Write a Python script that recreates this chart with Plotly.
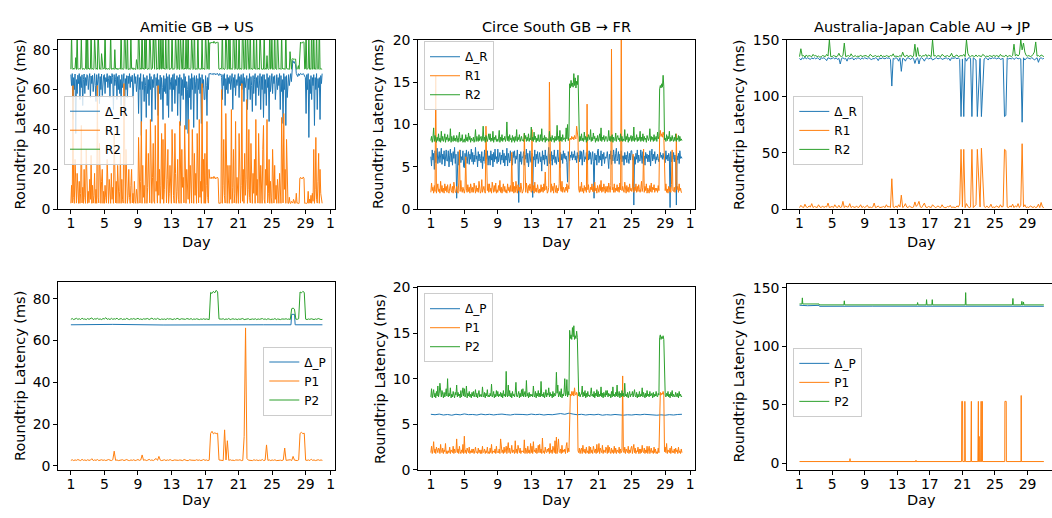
import plotly.graph_objects as go

W, H = 1052, 518
C_D, C_1, C_2 = "#1f77b4", "#ff7f0e", "#2ca02c"
FONT = "DejaVu Sans"

x_tickvals = [1, 5, 9, 13, 17, 21, 25, 29, 32]
x_ticktext = ["1", "5", "9", "13", "17", "21", "25", "29", "1"]

# ---------------- Amitie GB -> US : roundtrip (R), 2-hourly ----------------
amitie_dR = [
    67.5, 62, 68, 45, 66, 60, 67.8, 38, 65, 58, 67.2, 63,
    68, 55, 66.5, 61, 67.4, 52, 65, 67.8, 58, 66, 62, 67.5,
    67, 60, 65.5, 68, 56, 66.8, 63, 67.2, 59, 65, 68, 62,
    54, 67.5, 62, 65, 68, 53, 66.5, 60, 67.8, 57, 64, 67,
    67.5, 58, 66, 64, 68, 61, 65.5, 67, 56, 66.8, 63, 68,
    66, 50, 67.5, 62, 65, 68, 55, 66.5, 60, 67.2, 58, 65,
    52, 67.5, 61, 66, 68, 47, 65.5, 60, 67, 56, 66.8, 63,
    68, 61, 66.5, 64, 67.2, 56, 65, 68, 63, 66.5, 59, 67.5,
    67.5, 48, 66, 60, 68, 37, 64, 60, 67.5, 54, 66, 62,
    46, 67, 58, 65, 52, 68, 60, 66.5, 44, 65, 61, 67.5,
    67.5, 50, 66, 62, 68, 47, 65, 58, 67.2, 55, 66, 61,
    45, 67, 59, 65.5, 58, 68, 52, 66.5, 46, 67.5, 60, 64,
    66, 49, 67.5, 60, 68, 53, 65, 62, 67, 47, 66, 58,
    67.5, 42, 66, 57, 65, 55, 68, 61, 66.5, 40, 64, 60,
    38, 67, 56, 65.5, 50, 68, 60, 66, 41, 67, 58, 64,
    67, 45, 65.5, 60, 68, 58, 66, 43, 67.5, 61, 65, 55,
    55, 67, 62, 47, 66, 60, 68, 67.8, 68.2, 67.6, 68, 67.9,
    67.5, 68.2, 67.8, 67.4, 68, 67.6, 68.1, 67.7, 67, 68, 67.5, 67.8,
    66, 55, 67.5, 62, 68, 52, 65.5, 60, 67.5, 58, 66, 63,
    67, 60, 65.5, 68, 50, 66, 61, 67.5, 57, 65, 62, 68,
    68, 56, 66.5, 62, 67.5, 60, 65, 68, 54, 66, 61, 67,
    67, 50, 65.5, 60, 68, 55, 66.5, 62, 49, 67, 58, 65,
    68, 52, 66, 61, 67, 57, 65.5, 68, 50, 66.5, 60, 67.5,
    46, 67.5, 58, 65, 52, 68, 61, 66, 44, 67, 59, 65.5,
    68, 58, 66.5, 63, 67, 55, 65, 67.5, 60, 66, 62, 68,
    50, 67, 59, 65, 43, 68, 60, 66.5, 42, 67, 56, 65,
    67.5, 62, 66, 68, 64, 73, 74.5, 73.5, 74, 73, 72.5, 68,
    67.5, 66.5, 68, 67, 67.8, 68.1, 67.5, 67.9, 67.6, 68, 67.4, 66.8,
    66, 48, 67.5, 60, 68, 36, 65, 58, 67, 55, 66, 62,
    67.5, 42, 66, 60, 68, 50, 65.5, 61, 66, 45, 67, 63,
    68,
]
amitie_R1 = [
    3, 12, 3.2, 62, 6, 3, 25, 9, 3.1, 18, 5, 3,
    14, 3, 8, 42, 3.2, 11, 3, 20, 6, 3, 30, 7,
    3, 9, 3.3, 15, 5, 27, 3, 12, 3.1, 7, 18, 3,
    10, 3, 62, 6, 3.2, 33, 8, 3, 14, 20, 3, 9,
    3, 12, 6, 3.1, 25, 4, 3, 15, 8, 3, 18, 5,
    11, 3, 38, 7, 3.2, 14, 3, 22, 6, 3, 9, 28,
    3, 15, 5, 3.1, 63, 9, 3, 30, 12, 3, 7, 20,
    6, 3, 12, 20, 3.2, 8, 3, 14, 4, 3, 10, 5,
    3, 36, 9, 3.1, 14, 44, 3, 22, 6, 12, 3, 18,
    40, 3, 11, 28, 5, 3.2, 45, 8, 3, 16, 33, 4,
    3, 42, 9, 14, 3.1, 62, 7, 20, 3, 12, 38, 5,
    35, 3, 10, 43, 6, 3.2, 15, 30, 3, 8, 22, 4,
    3, 40, 12, 7, 3.1, 38, 18, 3, 9, 25, 5, 3,
    44, 6, 3, 30, 11, 16, 3.2, 42, 8, 3, 20, 13,
    5, 45, 3, 22, 9, 3.1, 40, 13, 3, 28, 7, 18,
    3, 38, 10, 3.2, 45, 6, 14, 3, 63, 9, 25, 3,
    28, 3, 12, 44, 6, 3.1, 20, 15.5, 15.8, 15.3, 16.2, 15.6,
    15.4, 16.5, 15.5, 15.2, 15.9, 15.5, 16.1, 15.4, 3, 3.1, 2.9, 3.2,
    60, 3, 12, 35, 7, 3.1, 48, 9, 3, 22, 14, 3,
    22, 5, 50, 3, 11, 30, 3.2, 8, 44, 3, 16, 6,
    3, 38, 9, 3.1, 12, 63, 4, 20, 3, 28, 7, 15,
    55, 3, 10, 40, 6, 3.2, 33, 12, 3, 18, 8, 25,
    3, 45, 7, 15, 3.1, 38, 9, 3, 22, 11, 3, 30,
    42, 5, 3, 20, 12, 45, 3.2, 8, 25, 3, 14, 6,
    3, 30, 8, 3.1, 22, 5, 12, 3, 15, 9, 3, 18,
    12, 3, 46, 7, 3.2, 48, 10, 20, 3, 35, 6, 3,
    3, 6, 3.2, 2.9, 4, 3, 3.1, 5, 3, 2.9, 3.3, 8,
    3, 3.2, 2.9, 3, 15.5, 16, 15.3, 15.7, 15.4, 16.2, 15.5, 3,
    3.1, 2.9, 3, 3.2, 9, 3, 5, 3.1, 7, 3, 8, 4,
    30, 3, 10, 36, 5, 3.1, 14, 28, 3, 20, 8, 3,
    3,
]
amitie_R2 = [
    70.2, 88, 70.5, 70.1, 70.8, 70.3, 70.6, 76, 70.1, 90, 70.4, 70.2,
    70.6, 70.2, 70.4, 86, 70.9, 70.1, 70.5, 70.3, 70.2, 70.7, 91, 70.1,
    89, 70.3, 70.8, 70.1, 70.5, 93, 70.2, 70.6, 70.1, 70.4, 87, 70.2,
    70.2, 70.7, 70.1, 90, 70.5, 70.3, 70.6, 70.1, 78, 70.4, 70.2, 70.6,
    70.5, 92, 70.1, 70.7, 70.3, 70.2, 70.6, 70.1, 70.4, 89, 70.2, 70.4,
    70.3, 70.6, 70.1, 80, 70.5, 70.2, 70.8, 70.1, 70.4, 70.2, 70.6, 70.3,
    93, 70.2, 70.5, 70.1, 70.7, 95, 70.3, 70.2, 70.5, 90, 70.1, 70.4,
    70.4, 70.1, 87, 70.6, 70.2, 70.9, 70.1, 70.5, 70.3, 70.1, 75, 70.2,
    70.2, 94, 70.5, 70.1, 70.6, 70.2, 96, 70.3, 70.7, 70.1, 91, 70.4,
    88, 70.4, 70.1, 70.6, 70.2, 93, 70.5, 70.1, 70.3, 70.7, 87, 70.2,
    70.2, 95, 70.4, 70.1, 70.6, 70.3, 89, 70.1, 70.5, 94, 70.2, 70.6,
    92, 70.3, 70.7, 70.1, 88, 70.5, 70.2, 70.6, 96, 70.1, 70.4, 70.3,
    70.6, 93, 70.1, 70.4, 70.2, 70.7, 89, 70.3, 70.1, 70.5, 91, 70.2,
    70.1, 88, 70.6, 70.2, 70.4, 94, 70.1, 70.8, 70.3, 90, 70.2, 70.5,
    95, 70.2, 70.5, 70.1, 70.7, 89, 70.3, 70.1, 70.6, 93, 70.2, 70.4,
    70.4, 70.1, 91, 70.5, 70.2, 70.6, 70.1, 70.3, 87, 70.2, 70.7, 70.3,
    70.1, 90, 70.4, 70.2, 70.6, 86, 70.1, 83.5, 83.2, 83.8, 83.4, 83.6,
    83.3, 84.2, 83.5, 83.1, 83.7, 83.4, 83.9, 83.5, 70.4, 70.1, 70.7, 70.2,
    70.5, 92, 70.2, 70.6, 70.1, 70.4, 94, 70.3, 70.1, 70.6, 90, 70.2,
    89, 70.2, 70.5, 70.1, 70.7, 95, 70.3, 70.1, 70.5, 87, 70.2, 70.4,
    70.4, 93, 70.1, 70.6, 70.2, 70.3, 96, 70.5, 70.1, 70.7, 88, 70.2,
    70.2, 91, 70.5, 70.1, 70.4, 94, 70.2, 70.6, 70.1, 70.3, 92, 70.5,
    70.6, 70.1, 87, 70.4, 70.2, 70.8, 70.1, 91, 70.5, 70.3, 70.2, 70.4,
    70.3, 90, 70.1, 70.6, 70.2, 77, 70.5, 70.1, 70.4, 93, 70.2, 70.7,
    88, 70.2, 70.5, 70.1, 94, 70.6, 70.3, 70.1, 90, 70.4, 70.2, 70.5,
    70.5, 70.1, 89, 70.3, 70.7, 70.2, 70.4, 70.1, 91, 70.6, 70.2, 70.3,
    70.3, 70.1, 79, 70.6, 70.2, 75.2, 75.6, 75.1, 75.4, 75.0, 75.3, 70.4,
    70.1, 70.6, 72, 70.2, 83.5, 83.8, 83.2, 83.6, 83.4, 84.0, 83.5, 70.3,
    70.5, 91, 70.1, 70.4, 70.6, 88, 70.2, 70.4, 70.1, 94, 70.3, 70.2,
    92, 70.3, 70.6, 70.1, 90, 70.5, 70.2, 70.4, 95, 70.1, 70.6, 70.3,
    70.2,
]

# ---------------- Circe South GB -> FR : roundtrip (R), 2-hourly ----------------
circe_dR = [
    6.2, 5.1, 7.0, 5.8, 6.6, 4.7, 6.9, 5.5, 6.3, 7.2, 5.4, 6.0,
    6.8, 5.5, 6.2, 7.2, 5.3, 6.5, 5.9, 6.9, 5.1, 6.4, 7.0, 5.7,
    5.7, 6.9, 5.0, 6.3, 7.1, 5.6, 6.6, 5.2, 6.8, 6.0, 7.3, 5.4,
    6.5, 1.3, 5.9, 6.8, 5.2, 6.4, 7.0, 5.5, 6.2, 5.8, 6.9, 5.0,
    4.9, 6.6, 5.8, 7.0, 5.4, 6.2, 6.8, 5.3, 6.5, 5.9, 7.1, 5.6,
    6.7, 5.3, 6.4, 5.6, 7.3, 5.9, 6.3, 5.0, 6.8, 5.7, 6.5, 6.0,
    5.5, 6.8, 4.8, 6.2, 5.7, 7.0, 5.4, 6.6, 5.9, 6.9, 5.2, 6.3,
    6.3, 5.2, 6.9, 5.8, 6.5, 5.0, 6.7, 5.6, 7.1, 5.9, 6.2, 5.4,
    7.1, 5.6, 6.0, 6.7, 5.3, 6.4, 5.8, 7.0, 5.5, 6.6, 5.1, 6.3,
    5.8, 7.2, 5.1, 6.6, 6.0, 5.5, 6.9, 5.7, 6.4, 5.2, 6.8, 6.1,
    6.9, 5.4, 6.3, 5.9, 7.0, 5.7, 0.8, 6.5, 5.6, 6.8, 5.3, 6.2,
    6.1, 6.8, 5.2, 6.4, 5.9, 7.1, 5.5, 6.6, 5.0, 6.3, 6.9, 5.7,
    5.5, 6.6, 1.4, 6.2, 5.8, 7.0, 5.0, 6.5, 5.9, 6.8, 5.4, 6.1,
    6.7, 5.6, 6.2, 4.5, 6.9, 5.8, 6.4, 5.3, 7.0, 5.9, 6.3, 5.1,
    6.0, 7.3, 5.4, 6.5, 5.7, 6.8, 5.2, 6.4, 5.9, 7.0, 5.5, 6.2,
    5.3, 6.4, 7.0, 5.6, 6.1, 4.9, 6.7, 5.8, 6.5, 5.4, 6.9, 6.0,
    6.6, 5.9, 6.3, 5.5, 3.2, 6.8, 6.2, 5.7, 6.4, 6.1, 6.8, 5.8,
    6.5, 6.1, 6.9, 5.8, 6.3, 5.5, 6.7, 6.0, 6.4, 5.6, 6.9, 5.9,
    6.8, 5.2, 6.4, 7.0, 5.6, 6.2, 5.9, 6.7, 5.4, 6.5, 5.8, 6.9,
    5.9, 6.7, 5.3, 6.1, 6.8, 5.6, 1.3, 6.6, 5.8, 6.4, 5.2, 6.9,
    7.1, 5.5, 6.3, 5.8, 6.9, 5.1, 6.5, 5.9, 6.7, 5.4, 6.2, 6.0,
    6.2, 6.8, 5.6, 4.8, 6.5, 5.9, 6.9, 5.3, 6.4, 5.7, 7.0, 5.5,
    5.4, 6.6, 7.2, 5.7, 6.0, 6.8, 5.3, 6.5, 5.9, 6.9, 5.6, 6.3,
    6.3, 5.2, 6.7, 5.9, 6.4, 5.5, 6.8, 6.0, 5.4, 6.6, 5.8, 6.9,
    6.9, 5.8, 6.3, 0.5, 6.2, 5.3, 6.6, 5.9, 7.0, 5.5, 6.4, 5.7,
    5.7, 7.0, 6.1, 5.4, 6.8, 5.9, 6.3, 5.2, 6.7, 6.0, 6.5, 5.6,
    6.4, 5.6, 6.9, 5.1, 6.3, 7.1, 5.7, 6.5, 5.9, 6.8, 5.4, 6.2,
    5.8, 6.5, 6.0, 5.6, 6.2, 6.7, 6.1, 6.4, 5.9, 6.6, 6.0, 5.5,
    5.5, 6.9, 5.9, 6.4, 5.7, 6.6, 6.2, 0.2, 6.8, 5.6, 6.3, 5.9,
    6.7, 5.6, 6.4, 5.8, 0.5, 6.3, 5.8, 6.6, 5.4, 6.9, 6.0, 6.2,
    6.0,
]
circe_R1 = [
    2.0, 3.1, 2.2, 2.6, 1.9, 2.8, 2.1, 15.7, 1.9, 2.6, 3.0, 2.1,
    2.4, 1.9, 3.3, 2.1, 2.8, 2.0, 2.5, 1.9, 3.0, 2.2, 2.7, 2.0,
    2.9, 2.1, 1.9, 2.5, 3.0, 2.2, 2.0, 2.7, 1.9, 3.2, 2.3, 2.0,
    2.0, 2.7, 2.2, 1.9, 3.1, 7.0, 2.1, 3.4, 2.3, 2.0, 2.6, 1.9,
    1.9, 2.4, 6.2, 2.4, 2.0, 2.9, 2.1, 2.6, 1.9, 3.0, 2.2, 2.0,
    2.6, 2.0, 3.1, 2.3, 1.9, 2.8, 2.1, 2.5, 2.0, 3.3, 2.2, 1.9,
    2.1, 3.5, 2.0, 2.4, 2.7, 2.2, 1.9, 9.8, 2.7, 2.2, 3.0, 2.0,
    3.0, 2.1, 2.5, 1.9, 3.2, 2.4, 2.0, 2.8, 2.1, 3.1, 1.9, 2.3,
    2.0, 2.8, 2.2, 3.4, 2.0, 2.6, 1.9, 2.4, 3.0, 2.1, 2.7, 2.0,
    2.3, 1.9, 3.0, 2.2, 2.6, 2.0, 2.8, 2.1, 6.7, 2.1, 3.2, 1.9,
    2.7, 2.0, 3.3, 2.4, 1.9, 2.9, 2.2, 2.6, 2.0, 3.1, 2.3, 1.9,
    2.1, 2.5, 8.9, 2.3, 2.0, 3.1, 2.5, 1.9, 2.8, 2.2, 3.0, 2.0,
    2.0, 9.4, 2.2, 2.8, 1.9, 3.2, 2.1, 2.5, 2.0, 2.9, 2.3, 1.9,
    2.4, 2.0, 2.9, 2.1, 2.6, 2.0, 3.0, 2.2, 4.4, 2.3, 2.7, 1.9,
    2.1, 2.6, 15.0, 2.5, 2.0, 3.0, 2.2, 2.7, 1.9, 3.1, 2.4, 2.0,
    2.8, 1.9, 2.5, 2.2, 3.0, 8.2, 2.3, 2.1, 3.3, 2.0, 2.6, 2.2,
    2.0, 2.6, 2.2, 3.0, 2.0, 2.8, 2.4, 8.3, 8.4, 8.2, 8.6, 8.3,
    8.5, 8.2, 8.7, 8.4, 8.3, 9.8, 8.6, 8.4, 2.4, 2.0, 2.7, 2.1,
    3.2, 2.1, 2.5, 1.9, 2.8, 2.2, 2.6, 2.0, 12.4, 2.3, 2.9, 2.0,
    2.0, 2.6, 2.3, 3.0, 2.1, 2.7, 2.0, 3.2, 2.2, 2.5, 1.9, 2.8,
    2.4, 2.0, 2.9, 2.2, 3.4, 2.0, 2.6, 2.1, 3.0, 2.3, 1.9, 2.7,
    2.1, 2.7, 2.0, 3.1, 2.4, 2.0, 2.8, 18.9, 2.3, 2.6, 2.0, 3.0,
    2.0, 2.5, 2.2, 2.9, 2.1, 2.6, 2.0, 3.1, 2.3, 20.5, 2.2, 2.7,
    2.3, 2.0, 3.2, 2.4, 1.9, 2.8, 2.1, 2.6, 2.0, 3.0, 2.2, 2.5,
    2.1, 2.4, 6.5, 2.0, 2.6, 2.2, 3.0, 2.0, 2.7, 2.1, 2.9, 2.3,
    2.0, 2.4, 3.3, 2.1, 2.6, 7.1, 2.0, 2.7, 2.2, 3.0, 1.9, 2.5,
    2.2, 1.9, 2.8, 2.1, 3.1, 2.0, 2.6, 2.3, 2.9, 2.0, 2.5, 2.2,
    2.5, 2.0, 2.8, 2.2, 8.7, 9.3, 8.6, 8.9, 8.5, 9.1, 8.7, 2.3,
    2.2, 3.0, 2.0, 2.4, 1.9, 2.7, 2.1, 2.6, 2.0, 2.9, 7.0, 2.2,
    2.1, 2.6, 2.0, 2.8, 8.9, 2.3, 2.7, 2.0, 3.0, 2.2, 2.5, 2.0,
    2.0,
]
circe_R2 = [
    8.1, 8.6, 7.9, 8.4, 9.6, 8.0, 8.7, 8.2, 7.9, 8.5, 8.1, 8.9,
    8.0, 8.4, 7.9, 9.2, 8.1, 8.6, 8.0, 8.3, 8.9, 7.9, 8.5, 8.2,
    8.8, 8.0, 8.4, 8.1, 9.5, 7.9, 8.6, 8.2, 8.0, 8.7, 8.1, 8.4,
    8.0, 8.7, 8.2, 7.9, 8.5, 9.1, 8.0, 8.4, 8.1, 8.8, 7.9, 8.3,
    8.3, 7.9, 8.8, 8.1, 8.5, 8.0, 9.0, 8.2, 8.6, 7.9, 8.4, 8.1,
    8.1, 8.5, 7.9, 8.3, 9.4, 8.0, 8.6, 8.2, 8.0, 8.8, 8.1, 8.4,
    8.6, 8.0, 8.3, 9.8, 8.1, 8.5, 7.9, 8.7, 8.2, 8.0, 8.4, 8.9,
    8.2, 8.9, 8.0, 8.4, 8.1, 9.2, 7.9, 8.5, 8.2, 8.7, 8.0, 8.3,
    8.0, 8.3, 9.3, 7.9, 8.5, 8.1, 8.8, 8.0, 8.4, 8.2, 8.6, 8.0,
    8.4, 10.3, 8.1, 8.6, 8.0, 8.8, 8.2, 8.4, 7.9, 8.7, 8.1, 8.5,
    7.9, 8.6, 8.1, 9.4, 8.0, 8.5, 8.2, 8.8, 8.0, 8.3, 8.6, 8.1,
    8.2, 8.0, 9.0, 8.3, 8.7, 8.0, 8.5, 8.1, 8.9, 8.0, 8.4, 8.2,
    9.7, 8.1, 8.5, 8.0, 9.1, 8.2, 8.6, 7.9, 8.4, 8.1, 8.8, 8.0,
    8.0, 8.8, 8.1, 9.5, 8.0, 8.4, 8.2, 8.7, 7.9, 8.5, 8.1, 8.3,
    8.3, 8.0, 9.2, 8.1, 8.5, 8.0, 8.7, 8.2, 8.4, 7.9, 8.6, 8.1,
    8.1, 9.9, 8.2, 8.6, 8.0, 9.3, 8.1, 8.5, 8.0, 8.8, 8.2, 8.4,
    8.4, 8.0, 9.6, 8.3, 10.0, 8.1, 8.6, 14.8, 14.3, 15.2, 14.5, 14.9,
    14.4, 16.0, 14.6, 15.5, 14.3, 15.1, 14.7, 15.8, 8.3, 8.0, 8.6, 8.1,
    8.9, 8.1, 8.4, 8.0, 9.1, 8.2, 8.6, 7.9, 8.5, 8.1, 8.8, 8.2,
    8.2, 9.4, 8.0, 8.5, 8.1, 9.0, 8.3, 8.6, 7.9, 8.4, 8.1, 8.7,
    8.0, 8.4, 8.9, 8.1, 9.6, 8.0, 8.5, 8.2, 8.7, 8.0, 8.3, 8.6,
    8.5, 8.0, 8.2, 9.3, 8.1, 8.6, 8.0, 8.4, 8.8, 7.9, 8.5, 8.2,
    8.1, 9.0, 8.0, 8.5, 8.7, 8.2, 8.4, 8.0, 8.9, 8.1, 8.6, 8.0,
    8.3, 8.1, 9.4, 8.0, 8.6, 8.2, 8.9, 7.9, 8.5, 8.1, 8.4, 8.7,
    8.0, 8.6, 8.1, 9.7, 8.0, 8.4, 8.2, 8.8, 8.0, 8.5, 8.1, 8.3,
    9.2, 8.0, 8.5, 8.1, 8.9, 8.0, 8.6, 8.2, 8.4, 7.9, 8.7, 8.1,
    8.1, 8.4, 9.5, 8.0, 8.6, 8.2, 8.5, 8.0, 8.8, 8.1, 8.3, 8.6,
    8.0, 9.1, 8.3, 8.6, 14.2, 14.6, 14.3, 14.8, 14.4, 15.8, 14.5, 8.2,
    8.4, 8.0, 8.8, 8.1, 8.6, 8.3, 9.2, 8.0, 8.5, 8.1, 8.7, 8.2,
    8.0, 8.5, 8.1, 8.9, 8.0, 8.4, 8.2, 8.7, 8.0, 8.6, 8.1, 8.3,
    8.1,
]

# ---------------- Australia-Japan Cable AU -> JP : roundtrip (R), 4-hourly ----------------
ajc_dR = [
    133.5, 132, 134, 133, 134.5, 133,
    134, 133.5, 132.5, 134, 133, 134,
    133, 134, 133.5, 132, 134, 133.5,
    134, 133, 131.5, 134, 133.5, 133,
    133.5, 134, 133, 134, 132.5, 133.5,
    128.5, 133.5, 134, 133, 133.5, 131,
    134, 133, 133.5, 134, 132, 133.5,
    133, 134, 133.5, 132.5, 134, 133,
    134, 133.5, 133, 134, 133.5, 132,
    133.5, 133, 134, 133.5, 131.5, 134,
    133, 134, 133.5, 133, 134, 133.5,
    134, 132.5, 109, 133.5, 133, 134,
    133.5, 131, 134, 122, 133.5, 133,
    131, 133.5, 134, 133, 132.5, 134,
    133.5, 129, 133, 134, 128.5, 133.5,
    134, 133, 131, 133.5, 134, 133,
    133.5, 134, 132, 133, 133.5, 134,
    133, 133.5, 134, 132.5, 133, 134,
    134, 133, 133.5, 131.5, 134, 133.5,
    133.5, 134, 133, 134, 132.5, 82,
    133, 82, 134, 131, 133.5, 134,
    133.5, 82, 134, 133, 132, 82,
    108, 133.5, 82, 103, 133, 134,
    133.5, 132, 134, 133, 134, 133.5,
    134, 133, 133.5, 134, 132.5, 133,
    133.5, 82, 83, 134, 133, 133.5,
    133, 134, 132.5, 133.5, 134, 133,
    133.5, 133, 77, 134, 132, 133.5,
    134, 133.5, 133, 134, 133.5, 132,
    133, 134, 130, 133.5, 134, 133,
    133.5,
]
ajc_R1 = [
    1.5, 3.5, 2, 1.5, 4.5, 2,
    1.5, 3, 2, 5, 1.5, 2.5,
    2, 1.5, 4, 2, 1.5, 3,
    1.5, 2.5, 2, 5.5, 1.5, 2,
    2.5, 1.5, 4, 2, 1.5, 3.5,
    1.5, 2, 7, 1.5, 3, 2,
    2, 5, 1.5, 2.5, 2, 1.5,
    3, 1.5, 2, 4, 1.5, 2.5,
    1.5, 2.5, 3.5, 1.5, 2, 1.5,
    2, 5.5, 1.5, 2, 3, 1.5,
    1.5, 2, 2.5, 1.5, 4, 2,
    2.5, 1.5, 27, 2, 1.5, 3,
    1.5, 4, 2, 12.5, 1.5, 2.5,
    5, 2, 1.5, 3, 2, 1.5,
    2, 6.5, 2.5, 4, 7, 2,
    1.5, 3, 5.5, 2, 1.5, 2.5,
    2, 1.5, 4, 2.5, 1.5, 2,
    3, 2, 1.5, 4, 2, 1.5,
    1.5, 2.5, 2, 3.5, 1.5, 2,
    2, 1.5, 3, 2, 4.5, 53,
    2, 53, 1.5, 5, 2.5, 1.5,
    2, 53, 1.5, 3, 4, 53,
    27, 2, 54, 32, 2.5, 1.5,
    3, 1.5, 2, 4.5, 1.5, 2,
    1.5, 3, 2, 1.5, 4, 2,
    2.5, 53, 52, 2, 1.5, 3,
    2, 4.5, 1.5, 3, 2, 5,
    1.5, 3.5, 58, 2, 4, 1.5,
    2, 1.5, 3, 2, 1.5, 2.5,
    1.5, 2, 4.5, 1.5, 6, 2,
    1.5,
]
ajc_R2 = [
    135, 142, 135.5, 136, 134.5, 136.5,
    135, 136, 135.5, 135, 137, 135.5,
    136, 135, 135.5, 134.5, 135, 136,
    135.5, 135, 137, 135.5, 150, 135,
    135, 136, 135.5, 135, 135.5, 138,
    135.5, 135, 136, 147, 135, 135.5,
    136, 135, 137.5, 135.5, 135, 136,
    135, 135.5, 135, 136.5, 135, 135.5,
    135.5, 136, 135, 135, 137, 135.5,
    135, 135.5, 136, 135, 135.5, 135,
    136.5, 135, 135.5, 135, 136, 135.5,
    135, 136, 135.5, 137.5, 135, 135.5,
    135.5, 135, 136, 135, 139, 135.5,
    135, 136.5, 135, 135.5, 136, 135,
    135.5, 146, 135, 143, 135.5, 136,
    135, 136, 135.5, 137, 135, 136.5,
    135.5, 135, 150, 135.5, 136, 135,
    136, 135.5, 135, 137, 135.5, 135,
    135.5, 136, 135, 135.5, 138, 135,
    135, 135.5, 136.5, 135, 135.5, 136,
    135.5, 137, 135, 150, 138, 135.5,
    135, 136, 135.5, 135, 136.5, 135,
    136, 135.5, 135, 137, 135.5, 135,
    135.5, 135, 136, 135.5, 135, 136.5,
    135, 136, 135.5, 135, 137, 135.5,
    135.5, 135, 136.5, 135, 135.5, 136,
    135, 136, 146, 135.5, 137, 135.5,
    137, 150, 141, 147, 139, 136,
    135.5, 136, 135, 135.5, 137, 139,
    148, 135.5, 136, 135, 136.5, 135.5,
    135,
]

# ---------------- Amitie GB -> US : (P), 4-hourly ----------------
amitie_dP_days = [1.0, 6.0, 12.0, 18.0, 24.0, 27.25, 27.33, 27.67, 27.75, 31.0]
amitie_dP = [67.5, 67.7, 67.4, 67.6, 67.5, 67.5, 72.5, 72.5, 67.5, 67.5]
amitie_P1 = [
    2.6, 2.9, 2.5, 2.8, 2.6, 3.0,
    2.7, 2.5, 3.1, 2.6, 2.8, 2.5,
    2.9, 2.6, 2.7, 3.4, 2.5, 2.8,
    2.6, 3.0, 2.5, 2.7, 2.9, 2.6,
    2.8, 2.5, 2.6, 3.0, 2.7, 2.5,
    2.9, 7.0, 2.6, 2.8, 2.5, 2.7,
    2.6, 2.9, 2.5, 2.7, 3.0, 2.6,
    2.5, 2.8, 2.6, 2.9, 2.5, 2.7,
    3.0, 2.6, 2.8, 5.2, 2.6, 2.9,
    2.5, 2.7, 3.1, 2.6, 2.8, 2.5,
    2.9, 3.5, 2.6, 4.5, 2.7, 2.5,
    2.7, 2.9, 2.5, 2.8, 2.6, 3.0,
    2.6, 2.5, 2.8, 2.7, 2.9, 2.6,
    2.8, 2.6, 2.5, 3.0, 2.7, 2.5,
    2.5, 2.9, 2.7, 2.6, 2.8, 2.6,
    2.9, 2.6, 2.8, 2.5, 2.7, 3.0,
    2.6, 2.8, 2.5, 2.7, 15.5, 16.5,
    15.3, 15.8, 15.4, 15.6, 2.8, 2.6,
    2.7, 2.5, 17.2, 2.8, 12.0, 2.6,
    2.9, 2.6, 2.7, 2.5, 2.8, 2.6,
    2.7, 2.9, 2.5, 2.6, 14.0, 66.0,
    3.5, 2.7, 2.6, 2.8, 2.5, 2.9,
    2.6, 2.8, 2.5, 2.7, 2.6, 3.0,
    2.5, 2.7, 10.0, 2.6, 2.8, 2.5,
    2.8, 2.6, 2.9, 2.5, 2.7, 2.6,
    2.7, 2.5, 2.8, 8.5, 2.6, 2.7,
    2.6, 2.9, 2.5, 4.5, 2.7, 2.6,
    2.5, 2.8, 15.5, 16.0, 15.4, 15.6,
    2.7, 2.6, 2.8, 2.5, 3.2, 2.6,
    2.8, 2.5, 2.7, 2.9, 2.6, 2.8,
    2.6,
]
amitie_P2 = [
    70.1, 70.5, 70.0, 70.3, 70.6, 70.1,
    70.4, 70.0, 70.7, 70.2, 70.3, 70.0,
    70.5, 70.1, 70.3, 70.8, 70.0, 70.4,
    70.2, 70.6, 70.1, 70.3, 70.0, 70.5,
    70.3, 70.9, 70.1, 70.4, 70.0, 70.6,
    70.1, 70.4, 70.2, 70.7, 70.0, 70.3,
    70.5, 70.0, 70.3, 70.1, 70.6, 70.2,
    70.0, 70.4, 70.2, 70.5, 70.1, 70.3,
    70.6, 70.1, 70.3, 70.0, 70.4, 70.2,
    70.2, 70.5, 70.0, 70.3, 70.7, 70.1,
    70.4, 70.1, 70.6, 70.2, 70.0, 70.3,
    70.1, 70.3, 70.0, 70.5, 70.2, 70.4,
    70.3, 70.0, 70.4, 70.1, 70.6, 70.2,
    70.0, 70.4, 70.2, 70.3, 70.1, 70.5,
    70.2, 70.1, 70.5, 70.0, 70.3, 70.1,
    70.4, 70.2, 70.0, 70.3, 70.1, 70.4,
    70.1, 70.3, 70.2, 70.0, 83.0, 82.5,
    83.5, 82.8, 84.0, 83.2, 70.3, 70.1,
    70.2, 70.4, 70.0, 70.3, 70.1, 70.5,
    70.0, 70.2, 70.4, 70.1, 70.3, 70.0,
    70.3, 70.1, 70.2, 70.5, 70.0, 70.2,
    70.1, 70.4, 70.0, 70.2, 70.3, 70.1,
    70.4, 70.0, 70.3, 70.1, 70.2, 70.5,
    70.1, 70.3, 70.0, 70.4, 70.2, 70.0,
    70.2, 70.1, 70.5, 70.0, 70.3, 70.2,
    70.0, 70.3, 70.1, 70.2, 70.4, 70.1,
    70.3, 70.0, 75.2, 75.5, 75.0, 70.2,
    70.1, 70.4, 83.2, 82.8, 83.5, 83.0,
    70.2, 70.0, 70.3, 70.1, 70.4, 70.2,
    70.0, 70.3, 70.1, 70.5, 70.2, 70.0,
    70.1,
]

# ---------------- Circe South GB -> FR : (P) ----------------
circe_dP = [
    6.10, 6.05, 6.12, 6.02, 6.08, 6.00, 6.10, 6.04, 6.14, 6.06,
    6.08, 6.02, 6.12, 6.05, 6.10, 6.03, 6.09, 6.12, 6.06, 6.02,
    6.10, 6.05, 6.08, 6.04, 6.12, 6.06, 6.10, 6.02, 6.08, 6.05,
    6.12, 6.18, 6.10, 6.22, 6.12, 6.05, 6.10, 6.02, 6.08, 6.04,
    6.10, 6.00, 6.06, 6.02, 6.08, 6.03, 6.00, 6.05, 6.02, 6.08,
    6.04, 6.10, 6.05, 6.02, 6.00, 6.04, 6.00, 6.06, 6.02, 6.08,
    6.10,
]
circe_P1 = [
    1.9, 2.6, 1.8, 2.2, 3.1, 1.9, 2.3, 1.8, 2.5, 2.0, 1.9, 2.4,
    2.3, 1.8, 2.8, 2.0, 1.9, 2.4, 1.8, 2.2, 2.0, 2.9, 1.8, 2.1,
    1.8, 2.1, 1.9, 2.5, 1.8, 2.2, 2.0, 1.9, 2.6, 1.8, 2.3, 1.9,
    2.0, 3.4, 1.9, 2.3, 1.8, 2.6, 2.0, 1.8, 2.2, 1.9, 2.8, 1.8,
    3.7, 1.9, 2.2, 1.8, 2.4, 2.0, 1.9, 2.5, 1.8, 2.1, 1.9, 2.3,
    1.9, 2.3, 1.8, 2.1, 2.5, 1.9, 2.0, 1.8, 2.4, 1.9, 2.2, 1.8,
    2.2, 1.8, 2.6, 1.9, 2.0, 2.3, 1.8, 2.1, 1.9, 2.5, 1.8, 2.0,
    1.8, 2.4, 1.9, 2.8, 1.8, 2.1, 2.0, 1.9, 2.3, 1.8, 2.6, 1.9,
    2.0, 1.9, 2.3, 1.8, 3.4, 2.0, 1.9, 2.2, 1.8, 2.5, 1.9, 2.1,
    2.6, 1.8, 2.2, 3.0, 1.9, 2.4, 1.8, 2.0, 2.7, 1.9, 2.2, 1.8,
    1.8, 3.2, 1.9, 2.3, 1.8, 2.7, 2.0, 1.9, 2.4, 1.8, 2.1, 2.0,
    2.1, 1.9, 3.3, 1.8, 2.4, 2.0, 1.8, 2.6, 1.9, 2.2, 1.8, 2.9,
    1.9, 2.6, 1.8, 3.1, 2.0, 2.2, 1.9, 2.4, 1.8, 2.0, 2.7, 1.9,
    2.8, 1.9, 2.3, 1.8, 3.5, 1.9, 2.1, 1.8, 2.5, 2.0, 1.9, 2.3,
    2.0, 2.4, 1.8, 2.9, 1.9, 2.2, 1.8, 2.6, 2.0, 1.9, 3.2, 1.8,
    3.6, 1.8, 2.5, 3.4, 2.0, 1.9, 2.3, 1.8, 2.7, 1.9, 2.2, 2.0,
    2.3, 1.8, 2.6, 3.0, 1.9, 2.4, 2.0, 8.2, 8.3, 8.1, 8.6, 8.2,
    8.6, 8.1, 9.0, 8.3, 8.2, 8.5, 8.3, 2.1, 1.9, 2.4, 1.8, 2.2,
    2.4, 1.8, 2.7, 2.0, 1.9, 2.3, 1.8, 2.5, 1.9, 2.1, 1.8, 2.6,
    1.8, 2.5, 1.9, 2.2, 1.8, 2.6, 2.0, 1.9, 2.3, 1.8, 2.8, 1.9,
    2.0, 2.9, 1.8, 2.4, 2.1, 1.9, 2.7, 1.8, 2.2, 2.0, 1.9, 2.5,
    2.3, 1.8, 2.7, 1.9, 2.5, 2.0, 1.8, 2.4, 1.9, 2.2, 1.8, 2.6,
    1.9, 2.4, 1.8, 2.2, 2.0, 1.9, 2.5, 1.8, 2.3, 1.9, 2.1, 10.3,
    2.1, 1.9, 2.5, 1.8, 2.3, 2.0, 1.9, 2.6, 1.8, 2.2, 1.9, 2.4,
    2.6, 1.8, 2.2, 2.8, 1.9, 2.4, 1.8, 2.1, 2.0, 2.5, 1.8, 2.3,
    1.8, 2.3, 1.9, 2.7, 2.0, 1.9, 2.4, 1.8, 2.2, 1.9, 2.6, 1.8,
    2.2, 2.6, 1.8, 2.0, 2.4, 1.9, 2.1, 1.8, 2.5, 1.9, 2.3, 1.8,
    2.0, 1.8, 2.4, 1.9, 8.3, 8.5, 8.2, 8.4, 8.3, 8.6, 8.2, 2.0,
    2.5, 1.9, 2.9, 1.8, 2.2, 2.0, 1.9, 2.4, 1.8, 2.6, 1.9, 2.1,
    1.9, 2.3, 1.8, 2.4, 2.0, 2.2, 1.8, 2.5, 1.9, 2.1, 1.8, 2.3,
    1.9,
]
circe_P2 = [
    8.0, 8.9, 7.9, 8.3, 8.8, 8.0, 8.4, 7.9, 8.6, 8.1, 9.2, 8.0,
    8.4, 9.5, 8.1, 8.0, 8.7, 8.2, 7.9, 8.5, 8.0, 8.3, 8.9, 8.1,
    10.0, 8.0, 8.4, 8.1, 9.0, 7.9, 8.3, 8.0, 8.6, 8.2, 7.9, 8.5,
    8.2, 9.3, 8.0, 8.5, 8.1, 8.3, 7.9, 8.7, 8.0, 8.4, 9.0, 8.1,
    8.9, 8.0, 8.2, 9.2, 7.9, 8.4, 8.1, 8.6, 8.0, 8.3, 7.9, 8.5,
    8.1, 8.6, 8.0, 8.3, 8.8, 8.0, 8.4, 7.9, 8.2, 8.7, 8.0, 8.3,
    8.3, 8.0, 9.1, 8.2, 8.0, 8.5, 7.9, 8.4, 8.1, 8.8, 8.0, 8.2,
    8.0, 8.4, 8.1, 9.4, 8.0, 8.2, 8.6, 7.9, 8.3, 8.0, 8.7, 8.1,
    8.6, 8.0, 8.3, 8.1, 8.5, 8.0, 8.4, 7.9, 8.7, 8.1, 8.3, 8.0,
    10.8, 8.2, 8.0, 9.3, 8.1, 8.7, 8.0, 8.4, 7.9, 8.6, 8.1, 8.3,
    8.0, 8.5, 9.6, 8.1, 8.0, 8.3, 8.6, 7.9, 8.4, 8.0, 8.8, 8.1,
    8.9, 8.0, 8.2, 8.6, 8.0, 9.8, 8.1, 8.4, 7.9, 8.5, 8.0, 8.3,
    8.1, 8.3, 8.0, 9.2, 8.2, 8.0, 8.6, 7.9, 8.4, 8.1, 8.7, 8.0,
    8.4, 8.0, 9.7, 8.1, 8.3, 8.0, 8.5, 7.9, 8.2, 8.8, 8.0, 8.4,
    8.2, 9.0, 8.0, 8.5, 8.1, 8.3, 7.9, 8.6, 8.0, 8.4, 8.1, 8.2,
    10.7, 8.4, 9.3, 8.0, 8.2, 8.6, 8.0, 8.9, 7.9, 8.3, 8.1, 8.5,
    10.0, 8.1, 8.3, 9.9, 8.0, 8.6, 8.2, 15.3, 14.4, 14.8, 14.3, 15.6,
    14.6, 15.8, 14.3, 14.7, 14.4, 15.2, 14.5, 8.4, 8.1, 8.5, 8.0, 8.3,
    8.3, 9.2, 8.0, 8.5, 8.1, 8.7, 7.9, 8.4, 8.0, 8.6, 8.1, 8.2,
    8.0, 8.4, 9.0, 8.1, 8.3, 8.0, 8.6, 7.9, 8.4, 8.1, 8.8, 8.0,
    8.6, 8.0, 8.3, 8.1, 9.1, 8.0, 8.4, 7.9, 8.5, 8.2, 8.0, 8.7,
    8.2, 8.7, 8.0, 8.4, 8.1, 8.3, 7.9, 8.6, 8.0, 9.1, 8.1, 8.3,
    8.0, 8.5, 8.1, 9.3, 8.0, 8.2, 8.6, 7.9, 8.4, 8.0, 8.7, 8.1,
    8.4, 8.0, 9.5, 8.1, 8.3, 8.0, 8.5, 7.9, 8.2, 8.6, 8.0, 8.3,
    8.2, 8.6, 8.0, 8.4, 8.8, 8.1, 8.0, 8.5, 7.9, 8.3, 8.0, 8.6,
    8.0, 8.3, 8.1, 9.0, 8.0, 8.5, 8.2, 7.9, 8.4, 8.0, 8.7, 8.1,
    8.3, 8.0, 8.6, 8.1, 8.2, 8.4, 7.9, 8.5, 8.0, 8.3, 8.1, 8.6,
    8.1, 8.0, 8.4, 8.2, 14.5, 14.8, 14.3, 14.6, 14.4, 14.7, 14.3, 8.2,
    8.2, 8.0, 8.4, 8.1, 8.6, 8.0, 8.3, 7.9, 8.5, 8.1, 8.7, 8.0,
    8.3, 8.1, 8.0, 8.5, 8.2, 8.0, 8.4, 7.9, 8.6, 8.1, 8.3, 8.0,
    8.1,
]

# ---------------- Australia-Japan Cable AU -> JP : (P) ----------------
ajc_dP_days = [1.0, 2.0, 3.4, 3.45, 10.0, 20.0, 31.0]
ajc_dP = [135.2, 134.8, 135.1, 134.3, 134.4, 134.3, 134.3]
ajc_P1_days = [1.0, 7.18, 7.2, 7.22, 15.28, 15.3, 15.32, 20.9, 20.92, 21.02, 21.04,
               21.28, 21.3, 21.34, 21.36, 22.04, 22.06, 22.1, 22.12, 22.9, 22.92,
               22.96, 22.98, 23.04, 23.06, 23.08, 23.24, 23.26, 23.3, 23.32, 23.38,
               23.4, 23.44, 23.46, 26.2, 26.22, 26.38, 26.4, 28.2, 28.22, 28.24, 31.0]
ajc_P1 = [1.5, 1.5, 4.0, 1.5, 1.5, 2.6, 1.5, 1.5, 53, 53, 1.5,
          1.5, 53, 48, 1.5, 1.5, 53, 53, 1.5, 1.5, 53,
          53, 1.5, 1.5, 23, 1.5, 1.5, 53, 53, 1.5, 1.5,
          53, 53, 1.5, 1.5, 53, 53, 1.5, 1.5, 58, 1.5, 1.5]
ajc_P2_days = [1.0, 1.3, 1.35, 1.4, 3.4, 3.45, 6.45, 6.5, 6.55, 15.45, 15.5, 15.55,
               16.55, 16.6, 16.65, 17.25, 17.3, 17.35, 21.35, 21.4, 21.45, 27.15,
               27.2, 27.25, 28.25, 28.3, 28.35, 28.45, 28.5, 28.55, 31.0]
ajc_P2 = [136.3, 136.3, 141.5, 136.3, 136.3, 135.5, 135.5, 139, 135.5, 135.5, 137.5,
          135.5, 135.5, 140, 135.5, 135.5, 140, 135.5, 135.5, 146, 135.5, 135.5,
          141, 135.5, 135.5, 138.5, 135.5, 135.5, 138, 135.5, 135.5]


def sample_days(vals, start=1.0, end=31.0):
    n = len(vals)
    return [start + (end - start) * i / (n - 1) for i in range(n)]


panels = [
    dict(title="Amitie GB → US", box=(58.3, 334.7, 32.7, 207.7), xr=[-0.5, 32.5],
         yr=[0, 85], dtick=20, names=["Δ_R", "R1", "R2"],
         series=[(sample_days(amitie_dR), amitie_dR), (sample_days(amitie_R1), amitie_R1),
                 (sample_days(amitie_R2), amitie_R2)],
         leg=(64, 90.5), ylab_x=20, mirror_y=True),
    dict(title="Circe South GB → FR", box=(418.3, 694.5, 32.7, 207.7), xr=[-0.5, 32.5],
         yr=[0, 20], dtick=5, names=["Δ_R", "R1", "R2"],
         series=[(sample_days(circe_dR), circe_dR), (sample_days(circe_R1), circe_R1),
                 (sample_days(circe_R2), circe_R2)],
         leg=(424, 34.3), ylab_x=378.5, mirror_y=True),
    dict(title="Australia-Japan Cable AU → JP", box=(787.3, 1052, 32.7, 207.7), xr=[-0.5, 32.0],
         yr=[0, 150], dtick=50, names=["Δ_R", "R1", "R2"],
         series=[(sample_days(ajc_dR), ajc_dR), (sample_days(ajc_R1), ajc_R1),
                 (sample_days(ajc_R2), ajc_R2)],
         leg=(793.3, 90.7), ylab_x=739.5, mirror_y=False, center=921.6),
    dict(title=None, box=(58.3, 335.0, 282.7, 476.7), xr=[-0.5, 32.5],
         yr=[-2.0, 88.0], dtick=20, names=["Δ_P", "P1", "P2"],
         series=[(amitie_dP_days, amitie_dP), (sample_days(amitie_P1), amitie_P1),
                 (sample_days(amitie_P2), amitie_P2)],
         leg=(263.3, 349.3), ylab_x=20, mirror_y=True),
    dict(title=None, box=(418.3, 694.5, 288.3, 476.7), xr=[-0.5, 32.5],
         yr=[0, 20], dtick=5, names=["Δ_P", "P1", "P2"],
         series=[(sample_days(circe_dP), circe_dP), (sample_days(circe_P1), circe_P1),
                 (sample_days(circe_P2), circe_P2)],
         leg=(424, 294.3), ylab_x=379.3, mirror_y=True),
    dict(title=None, box=(787.3, 1052, 285.0, 476.7), xr=[-0.5, 32.0],
         yr=[-5.7, 153.2], dtick=50, names=["Δ_P", "P1", "P2"],
         series=[(ajc_dP_days, ajc_dP), (ajc_P1_days, ajc_P1), (ajc_P2_days, ajc_P2)],
         leg=(793.3, 350.7), ylab_x=739.5, mirror_y=False, center=921.6),
]

fig = go.Figure()
layout = dict(
    width=W, height=H, margin=dict(l=0, r=0, t=0, b=0),
    paper_bgcolor="white", plot_bgcolor="white",
    font=dict(family=FONT, size=14, color="black"),
    showlegend=True,
)
annotations = []
tickfont = dict(family=FONT, size=14, color="black")

for k, p in enumerate(panels, start=1):
    sfx = "" if k == 1 else str(k)
    xref, yref = "x" + sfx, "y" + sfx
    legname = "legend" + sfx
    for name, (xs, ys), color in zip(p["names"], p["series"], [C_D, C_1, C_2]):
        fig.add_trace(go.Scatter(x=xs, y=ys, mode="lines", name=name,
                                 line=dict(color=color, width=1),
                                 xaxis=xref, yaxis=yref, legend=legname))
    x0, x1, y0, y1 = p["box"]
    layout["xaxis" + sfx] = dict(
        domain=[x0 / W, min(x1 / W, 1.0)], range=p["xr"], anchor=yref,
        tickmode="array", tickvals=x_tickvals, ticktext=x_ticktext,
        showline=True, mirror=True, linecolor="black", linewidth=1,
        ticks="outside", ticklen=4, tickwidth=1, tickcolor="black",
        ticklabelstandoff=-3,
        showgrid=False, zeroline=False, tickfont=tickfont)
    layout["yaxis" + sfx] = dict(
        domain=[1 - y1 / H, 1 - y0 / H], range=p["yr"], anchor=xref,
        tickmode="linear", tick0=0, dtick=p["dtick"],
        showline=True, mirror=p["mirror_y"], linecolor="black", linewidth=1,
        ticks="outside", ticklen=4, tickwidth=1, tickcolor="black",
        showgrid=False, zeroline=False, tickfont=tickfont)
    lx, ly = p["leg"]
    layout[legname] = dict(
        x=lx / W, y=1 - ly / H, xref="paper", yref="paper",
        xanchor="left", yanchor="top",
        bgcolor="rgba(255,255,255,0.8)", bordercolor="#cccccc", borderwidth=1,
        font=dict(family=FONT, size=12, color="black"),
        tracegroupgap=0, itemwidth=30)
    cx = p.get("center", (x0 + x1) / 2)
    cy = (y0 + y1) / 2
    if p["title"]:
        annotations.append(dict(text=p["title"], x=cx / W, y=1 - 20 / H,
                                xref="paper", yref="paper", showarrow=False,
                                xanchor="center", yanchor="middle",
                                font=dict(family=FONT, size=14.5, color="black")))
    if k <= 3:
        day_ann = dict(y=1 - 241 / H, yanchor="middle")
    else:
        day_ann = dict(y=0.0, yanchor="bottom")
    annotations.append(dict(text="Day", x=cx / W, xref="paper", yref="paper",
                            showarrow=False, xanchor="center",
                            font=dict(family=FONT, size=14.5, color="black"), **day_ann))
    annotations.append(dict(text="Roundtrip Latency (ms)", x=p["ylab_x"] / W, y=1 - cy / H,
                            xref="paper", yref="paper", showarrow=False, textangle=-90,
                            xanchor="center", yanchor="middle",
                            font=dict(family=FONT, size=14.5, color="black")))

layout["annotations"] = annotations
fig.update_layout(**layout)
fig.write_html("out.html")
